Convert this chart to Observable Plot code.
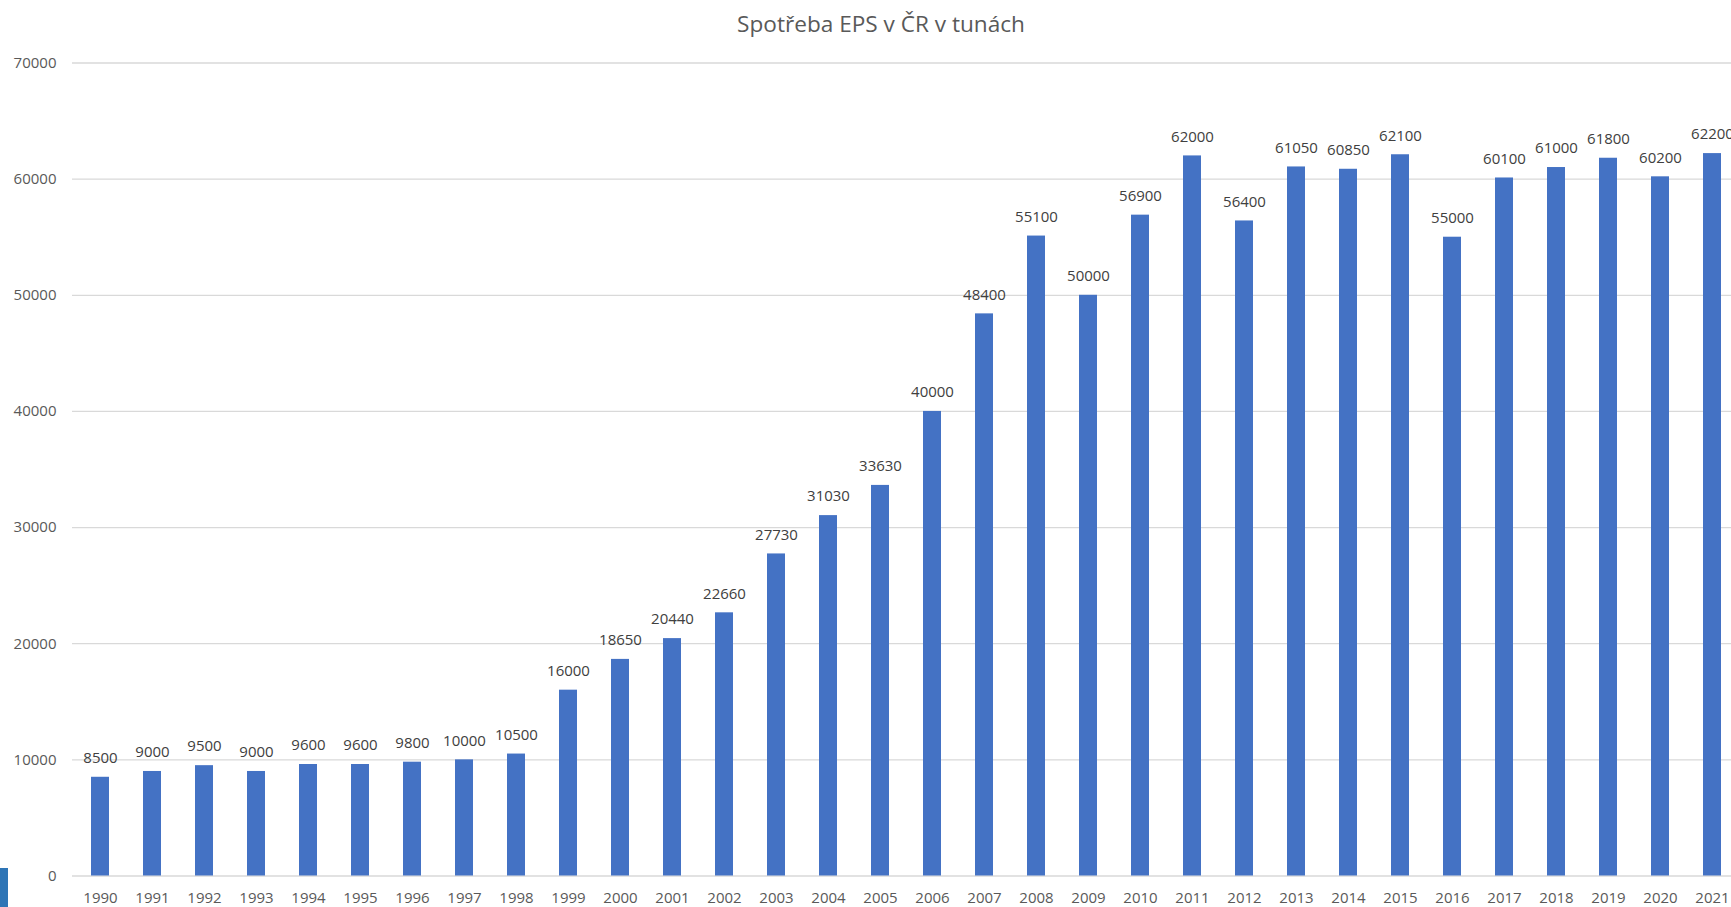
<!DOCTYPE html>
<html>
<head>
<meta charset="utf-8">
<script src="https://cdn.jsdelivr.net/npm/d3@7"></script>
<script src="https://cdn.jsdelivr.net/npm/@observablehq/plot@0.6"></script>
<style>
  html, body { margin: 0; padding: 0; background: #fff; overflow: hidden; }
  #wrap { position: relative; width: 1731px; height: 907px; }
  #title { position: relative; height: 45px; font-family: "Open Sans", sans-serif; font-size: 22.6px; color: #595959; }
  #title span { position: absolute; left: 881px; top: 8px; transform: translateX(-50%); white-space: nowrap; }
  #edge { position: absolute; left: 0; top: 868px; width: 8px; height: 39px; background: #2e75b6; }
  svg { display: block; }
</style>
</head>
<body>
<div id="wrap">
  <div id="title"><span>Spotřeba EPS v ČR v tunách</span></div>
  <div id="chart"></div>
  <div id="edge"></div>
</div>
<script>
const years = ["1990","1991","1992","1993","1994","1995","1996","1997","1998","1999","2000","2001","2002","2003","2004","2005","2006","2007","2008","2009","2010","2011","2012","2013","2014","2015","2016","2017","2018","2019","2020","2021"];
const values = [8500,9000,9500,9000,9600,9600,9800,10000,10500,16000,18650,20440,22660,27730,31030,33630,40000,48400,55100,50000,56900,62000,56400,61050,60850,62100,55000,60100,61000,61800,60200,62200];
const yTicks = [0,10000,20000,30000,40000,50000,60000,70000];

const data = years.map((y, i) => ({year: y, value: values[i]}));

const chart = Plot.plot({
  width: 1731,
  height: 862,
  marginLeft: 72,
  marginRight: -9,
  marginTop: 17.5,
  marginBottom: 31.5,
  style: {fontFamily: "'Open Sans', sans-serif", fontSize: "15px", color: "#595959", background: "#fff"},
  x: {domain: years, paddingInner: 0.66, paddingOuter: 0.34, label: null},
  y: {domain: [0, 70000], label: null},
  marks: [
    Plot.ruleY(yTicks, {stroke: "#d9d9d9", strokeWidth: 1.3}),
    Plot.barY(data, {x: "year", y: "value", fill: "#4472C4"}),
    Plot.text(data, {x: "year", y: "value", text: d => String(d.value), dy: -19, fill: "#404040", fontSize: 15}),
    Plot.axisY({ticks: yTicks, tickSize: 0, tickPadding: 16, tickFormat: d => String(d), fill: "#595959", fontSize: 15, label: null}),
    Plot.axisX({tickSize: 0, tickPadding: 16, fill: "#595959", fontSize: 15, label: null})
  ]
});
document.getElementById("chart").appendChild(chart);
</script>
</body>
</html>
